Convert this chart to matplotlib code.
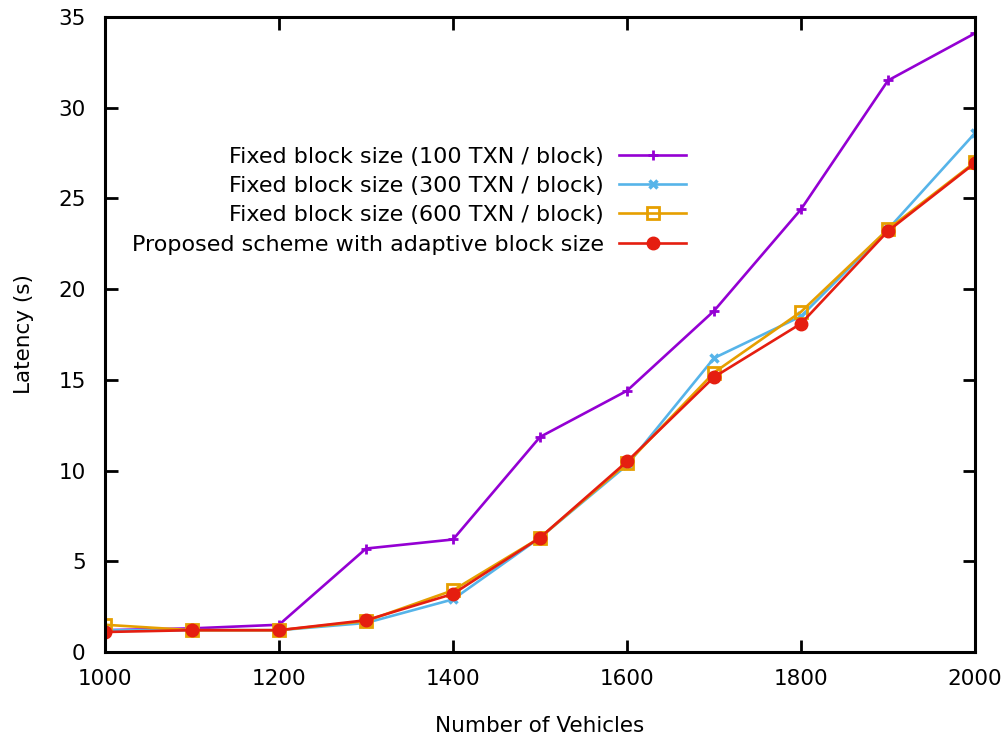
import matplotlib
matplotlib.use("Agg")
import matplotlib.pyplot as plt

vehicles = [1000, 1100, 1200, 1300, 1400, 1500, 1600, 1700, 1800, 1900, 2000]
fixed_100 = [1.2, 1.3, 1.5, 5.7, 6.2, 11.85, 14.4, 18.8, 24.4, 31.5, 34.1]
fixed_300 = [1.2, 1.2, 1.2, 1.6, 2.9, 6.3, 10.3, 16.2, 18.5, 23.3, 28.6]
fixed_600 = [1.5, 1.2, 1.2, 1.7, 3.4, 6.3, 10.4, 15.4, 18.75, 23.3, 27.0]
adaptive = [1.1, 1.2, 1.2, 1.75, 3.2, 6.3, 10.5, 15.15, 18.1, 23.2, 26.95]

labels = [
    "Fixed block size (100 TXN / block)",
    "Fixed block size (300 TXN / block)",
    "Fixed block size (600 TXN / block)",
    "Proposed scheme with adaptive block size",
]
x_ticks = [1000, 1200, 1400, 1600, 1800, 2000]
y_ticks = [0, 5, 10, 15, 20, 25, 30, 35]

plt.rcParams["font.family"] = ["DejaVu Sans"]

fig = plt.figure(figsize=(10.06, 7.44), dpi=100)
ax = fig.add_axes([0.1044, 0.1237, 0.8648, 0.8535])

lw = 1.9
ax.plot(vehicles, fixed_100, color="#9400d3", lw=lw, marker="+", ms=7, mew=2,
        label=labels[0])
ax.plot(vehicles, fixed_300, color="#56b4e9", lw=lw, marker="x", ms=6, mew=2.5,
        label=labels[1])
ax.plot(vehicles, fixed_600, color="#e69f00", lw=lw, marker="s", ms=9, mew=2,
        mfc="none", label=labels[2])
ax.plot(vehicles, adaptive, color="#e51e10", lw=lw, marker="o", ms=9,
        label=labels[3])

ax.set_xlim(1000, 2000)
ax.set_ylim(0, 35)
ax.set_xticks(x_ticks)
ax.set_yticks(y_ticks)
ax.tick_params(direction="in", length=9, width=2, labelsize=15.5, top=True,
               right=True)
ax.tick_params(axis="y", pad=14)
ax.tick_params(axis="x", pad=12)
for s in ax.spines.values():
    s.set_linewidth(2.2)

ax.set_xlabel("Number of Vehicles", fontsize=15.5, labelpad=20)
ax.set_ylabel("Latency (s)", fontsize=15.5, labelpad=17)

leg = ax.legend(loc="upper right", bbox_to_anchor=(0.678, 0.81), frameon=False,
                markerfirst=False, fontsize=16, handlelength=3.0,
                labelspacing=0.42, handletextpad=0.7, borderaxespad=0)
for t in leg.get_texts():
    t.set_ha("right")
leg._legend_box.align = "right"

fig.savefig("out.png", dpi=100)
